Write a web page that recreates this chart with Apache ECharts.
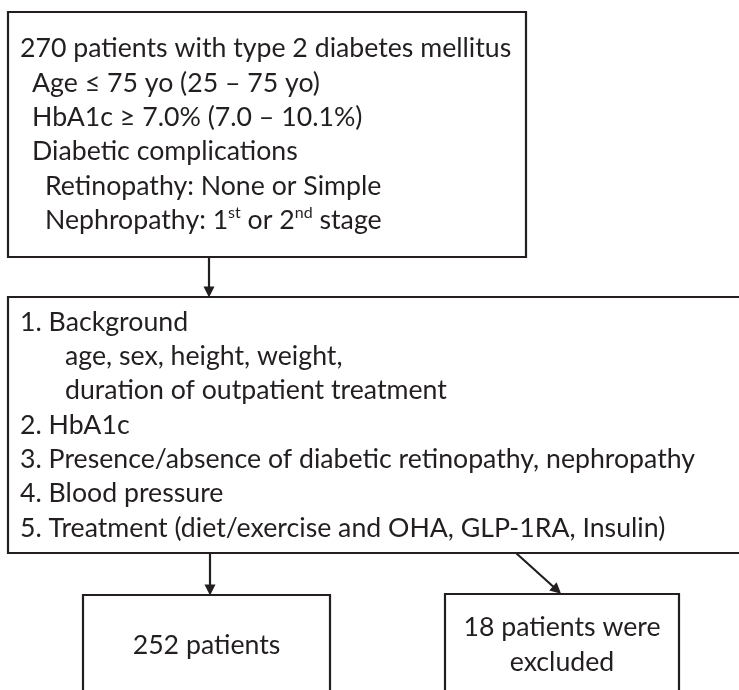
<!DOCTYPE html>
<html>
<head>
<meta charset="utf-8">
<script src="https://cdn.jsdelivr.net/npm/echarts@6/dist/echarts.min.js"></script>
<style>
  html, body { margin: 0; padding: 0; background: #fff; }
  #chart { width: 739px; height: 690px; }
</style>
</head>
<body>
<div id="chart"></div>
<script>
// patient counts
const enrolled = 270
const included = 252
const excluded = 18

// box texts
const criteriaLines = [
  `${enrolled} patients with type 2 diabetes mellitus`,
  'Age ≤ 75 yo (25 – 75 yo)',
  'HbA1c ≥ 7.0% (7.0 – 10.1%)',
  'Diabetic complications',
  'Retinopathy: None or Simple',
  'Nephropathy: 1st or 2nd stage'
]
const itemLines = [
  '1. Background',
  'age, sex, height, weight,',
  'duration of outpatient treatment',
  '2. HbA1c',
  '3. Presence/absence of diabetic retinopathy, nephropathy',
  '4. Blood pressure',
  '5. Treatment (diet/exercise and OHA, GLP-1RA, Insulin)'
]
const includedLines = [`${included} patients`]
const excludedLines = [`${excluded} patients were`, 'excluded']

// layout in page pixels: [x0, y0, x1, y1]
const boxes = [
  {lines: criteriaLines, rect: [8, 12, 526, 257], align: 'left', indent: [0, 12, 12, 12, 25, 25]},
  {lines: itemLines, rect: [8, 297, 745, 553], align: 'left', indent: [0, 45, 45, 0, 0, 0, 0]},
  {lines: includedLines, rect: [83, 595, 330, 696], align: 'center'},
  {lines: excludedLines, rect: [445, 594, 679, 696], align: 'center'}
]
const arrows = [
  [[209, 257], [209, 292]],
  [[210, 553], [210, 590]],
  [[516, 553], [557, 590]]
]

const ink = '#231f20'
const fontFamily = 'Lato, "Open Sans", sans-serif'
const fontSize = 26.7
const lineHeight = 34.3
const padding = 12

// 1st / 2nd -> superscript
const toRich = text => text.replace(/(\d)(st|nd|rd|th)\b/g, '$1{sup|$2}')

const myChart = echarts.init(document.getElementById('chart'))

myChart.setOption({
  animation: false,
  grid: {left: 0, right: 0, top: 0, bottom: 0},
  xAxis: {type: 'value', min: 0, max: 739, show: false},
  yAxis: {type: 'value', min: 0, max: 690, inverse: true, show: false},
  series: [
    {
      type: 'custom',
      coordinateSystem: 'cartesian2d',
      clip: false,
      data: boxes.map(b => b.rect),
      renderItem (params, api) {
        const box = boxes[params.dataIndex]
        const p0 = api.coord([api.value(0), api.value(1)])
        const p1 = api.coord([api.value(2), api.value(3)])
        const cy = (p0[1] + p1[1]) / 2
        const n = box.lines.length
        const children = [{
          type: 'rect',
          shape: {x: p0[0], y: p0[1], width: p1[0] - p0[0], height: p1[1] - p0[1]},
          style: {fill: 'none', stroke: ink, lineWidth: 2.2}
        }]
        box.lines.forEach((line, i) => {
          const x = box.align === 'left'
            ? p0[0] + padding + box.indent[i]
            : (p0[0] + p1[0]) / 2
          children.push({
            type: 'text',
            x: x,
            y: cy + (i - (n - 1) / 2) * lineHeight,
            style: {
              text: toRich(line),
              fill: ink,
              fontFamily: fontFamily,
              fontSize: fontSize,
              align: box.align,
              verticalAlign: 'middle',
              lineHeight: 30,
              rich: {
                sup: {fontFamily: fontFamily, fontSize: 16, fill: ink, verticalAlign: 'top', lineHeight: 30}
              }
            }
          })
        })
        return {type: 'group', children: children}
      }
    },
    {
      type: 'lines',
      coordinateSystem: 'cartesian2d',
      symbol: ['none', 'triangle'],
      symbolSize: [9, 11],
      lineStyle: {color: ink, width: 2.2, opacity: 1},
      data: arrows.map(coords => ({coords: coords}))
    }
  ]
})
</script>
</body>
</html>
